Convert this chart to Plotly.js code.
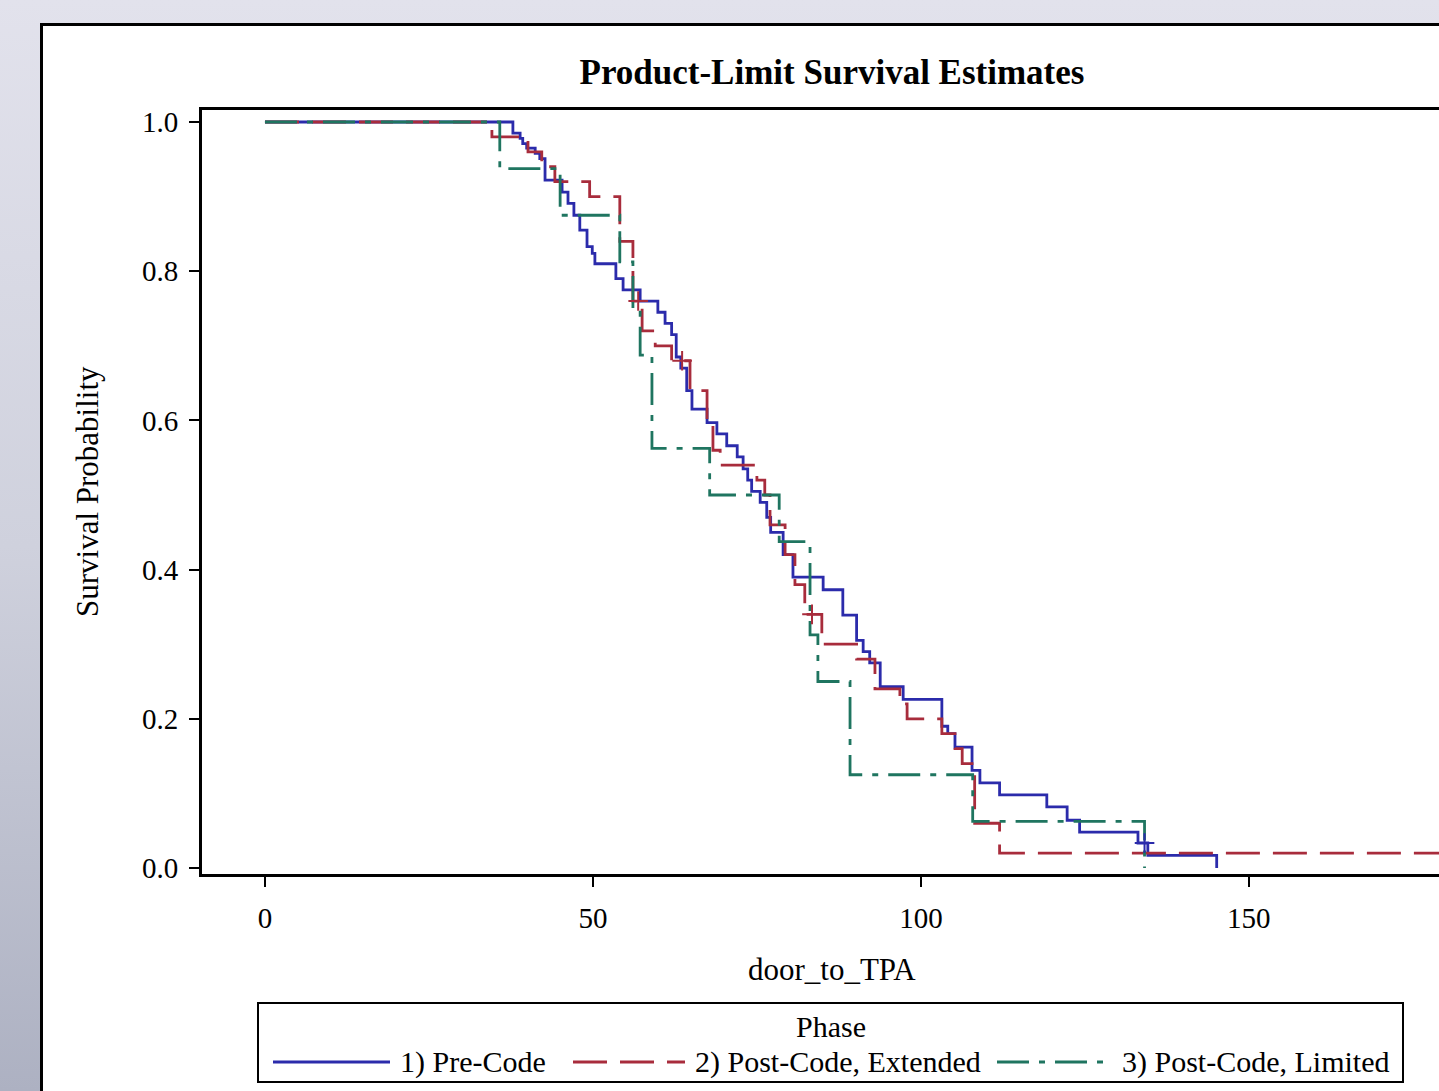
<!DOCTYPE html>
<html><head><meta charset="utf-8">
<script src="https://cdn.plot.ly/plotly-3.0.1.min.js"></script>
<style>
html,body{margin:0;padding:0;width:1439px;height:1091px;overflow:hidden;}
body{background:linear-gradient(to bottom,#e2e2ec 0%,#cfd1dd 50%,#adb1c2 100%);position:relative;}
#panel{position:absolute;left:40px;top:23px;width:1500px;height:1200px;background:#fff;border:3px solid #000;box-sizing:border-box;}
#chart{position:absolute;left:0;top:0;width:1500px;height:1091px;}
</style></head>
<body><div id="panel"></div><div id="chart"></div>
<script>
const chartTitle = 'Product-Limit Survival Estimates';
const xTitle = 'door_to_TPA';
const yTitle = 'Survival Probability';
const legendTitle = 'Phase';
const seriesNames = ['1) Pre-Code', '2) Post-Code, Extended', '3) Post-Code, Limited'];
const xTickVals = [0, 50, 100, 150];
const yTickVals = [0, 0.2, 0.4, 0.6, 0.8, 1.0];

// 1) Pre-Code: event times and survival after each step
const preTimes = [37.8, 38.9, 39.3, 39.9, 41.2, 41.9, 42.7, 45.3, 46.2, 47.1, 48.0, 49.1, 49.9, 50.3, 53.5, 54.6, 57.2, 59.9, 61.0, 62.0, 62.7, 63.4, 64.3, 65.1, 67.4, 68.9, 70.4, 72.0, 72.9, 73.6, 74.2, 75.5, 76.5, 77.1, 79.0, 80.5, 85.1, 88.1, 90.2, 91.2, 92.2, 93.8, 97.3, 103.2, 104.1, 105.2, 107.8, 109.0, 112.0, 119.2, 122.3, 124.2, 133.1, 134.6, 145.1];
const preSurv = [0.985, 0.978, 0.971, 0.965, 0.958, 0.951, 0.922, 0.906, 0.891, 0.875, 0.855, 0.833, 0.824, 0.810, 0.790, 0.775, 0.760, 0.745, 0.730, 0.715, 0.685, 0.670, 0.640, 0.615, 0.597, 0.582, 0.566, 0.551, 0.535, 0.520, 0.505, 0.490, 0.470, 0.450, 0.420, 0.390, 0.373, 0.339, 0.305, 0.290, 0.275, 0.243, 0.226, 0.190, 0.180, 0.162, 0.131, 0.114, 0.098, 0.082, 0.064, 0.048, 0.0335, 0.017, 0.0];

// 2) Post-Code, Extended
const extTimes = [34.6, 40.1, 42.2, 44.2, 49.5, 54.1, 56.1, 57.5, 59.5, 62.0, 64.8, 67.4, 68.3, 69.4, 75.0, 76.2, 77.0, 79.3, 80.8, 82.3, 84.9, 90.2, 93.0, 96.8, 97.9, 103.2, 105.2, 106.3, 108.2, 112.0, 180.0];
const extSurv = [0.98, 0.96, 0.94, 0.92, 0.90, 0.84, 0.76, 0.72, 0.70, 0.68, 0.64, 0.60, 0.56, 0.54, 0.52, 0.50, 0.46, 0.42, 0.38, 0.34, 0.30, 0.28, 0.24, 0.22, 0.20, 0.18, 0.16, 0.14, 0.06, 0.02, 0.02];

// 3) Post-Code, Limited
const limTimes = [35.8, 45.0, 54.1, 56.1, 57.2, 59.0, 67.8, 78.4, 83.1, 84.3, 89.2, 107.9, 134.1];
const limSurv = [0.9375, 0.875, 0.8125, 0.75, 0.6875, 0.5625, 0.5, 0.4375, 0.3125, 0.25, 0.125, 0.0625, 0.0];

// censored observations
const preCensT = [134.1];
const preCensS = [0.0335];
const extCensT = [56.9, 63.6, 83.4];
const extCensS = [0.76, 0.68, 0.34];

const colors = ['#2b2bab', '#a82c3c', '#1f7560'];
const dashes = ['solid', '34px,13px', '32px,10px,6px,10px'];
const FONT = 'Liberation Serif, Times New Roman, serif';

function stepTrace(times, surv, i) {
  return {
    x: [0].concat(times), y: [1].concat(surv),
    type: 'scatter', mode: 'lines', name: seriesNames[i],
    line: {shape: 'hv', color: colors[i], width: 2.8, dash: dashes[i]},
    showlegend: false, hoverinfo: 'x+y'
  };
}
function censTrace(t, s, i) {
  return {x: t, y: s, type: 'scatter', mode: 'markers', showlegend: false,
    marker: {symbol: 'cross-thin-open', size: 14, color: colors[i], line: {width: 2, color: colors[i]}}};
}

const data = [
  stepTrace(preTimes, preSurv, 0),
  stepTrace(extTimes, extSurv, 1),
  stepTrace(limTimes, limSurv, 2),
  censTrace(preCensT, preCensS, 0),
  censTrace(extCensT, extCensS, 1)
];

// pixel helpers for layout placement
const W = 1500, H = 1091, L = 202, T = 110, PW = 1260, PH = 764;
const px = v => (v - L) / PW;
const py = v => (T + PH - v) / PH;

const shapes = [
  {type: 'rect', xref: 'paper', yref: 'paper', x0: px(258), x1: px(1403), y0: py(1082), y1: py(1003), line: {color: '#000', width: 2}, fillcolor: 'rgba(0,0,0,0)'}
];
const legLines = [[273, 390], [573, 685], [997, 1110]];
const legText = [398, 693, 1120];
const annotations = [
  {text: yTitle, xref: 'paper', yref: 'paper', x: px(87), y: py(492), textangle: -90, showarrow: false, font: {family: FONT, size: 31, color: '#000'}, xanchor: 'center', yanchor: 'middle'},
  {text: xTitle, xref: 'paper', yref: 'paper', x: px(832), y: py(970), showarrow: false, font: {family: FONT, size: 31, color: '#000'}, xanchor: 'center', yanchor: 'middle'},
  {text: legendTitle, xref: 'paper', yref: 'paper', x: px(831), y: py(1026), showarrow: false, font: {family: FONT, size: 30, color: '#000'}, xanchor: 'center', yanchor: 'middle'}
];
for (let i = 0; i < 3; i++) {
  shapes.push({type: 'line', xref: 'paper', yref: 'paper', x0: px(legLines[i][0]), x1: px(legLines[i][1]), y0: py(1062), y1: py(1062), line: {color: colors[i], width: 2.8, dash: dashes[i]}});
  annotations.push({text: seriesNames[i], xref: 'paper', yref: 'paper', x: px(legText[i]), y: py(1062), showarrow: false, xanchor: 'left', yanchor: 'middle', font: {family: FONT, size: 30, color: '#000'}});
}

const layout = {
  width: W, height: H,
  margin: {l: L, r: W - L - PW, t: T, b: H - T - PH},
  paper_bgcolor: 'rgba(0,0,0,0)', plot_bgcolor: '#fff',
  showlegend: false,
  title: {text: '<b>' + chartTitle + '</b>', xref: 'container', yref: 'container', x: 832 / W, y: 1 - 72 / H, xanchor: 'center', yanchor: 'middle', font: {family: FONT, size: 35, color: '#000'}},
  xaxis: {range: [-9.6, 182.5], tickvals: xTickVals, ticks: 'outside', ticklen: 10, tickwidth: 2, tickcolor: '#000',
    showline: true, linewidth: 3, linecolor: '#000', mirror: true, showgrid: false, zeroline: false,
    tickfont: {family: FONT, size: 29, color: '#000'}, ticklabelstandoff: 6},
  yaxis: {range: [-0.00804, 1.0161], tickvals: yTickVals, tickformat: '.1f', ticks: 'outside', ticklen: 10, tickwidth: 2, tickcolor: '#000',
    showline: true, linewidth: 3, linecolor: '#000', mirror: true, showgrid: false, zeroline: false,
    tickfont: {family: FONT, size: 29, color: '#000'}, ticklabelstandoff: 5},
  shapes: shapes, annotations: annotations
};
Plotly.newPlot('chart', data, layout, {displayModeBar: false, staticPlot: true});
</script>
</body></html>
